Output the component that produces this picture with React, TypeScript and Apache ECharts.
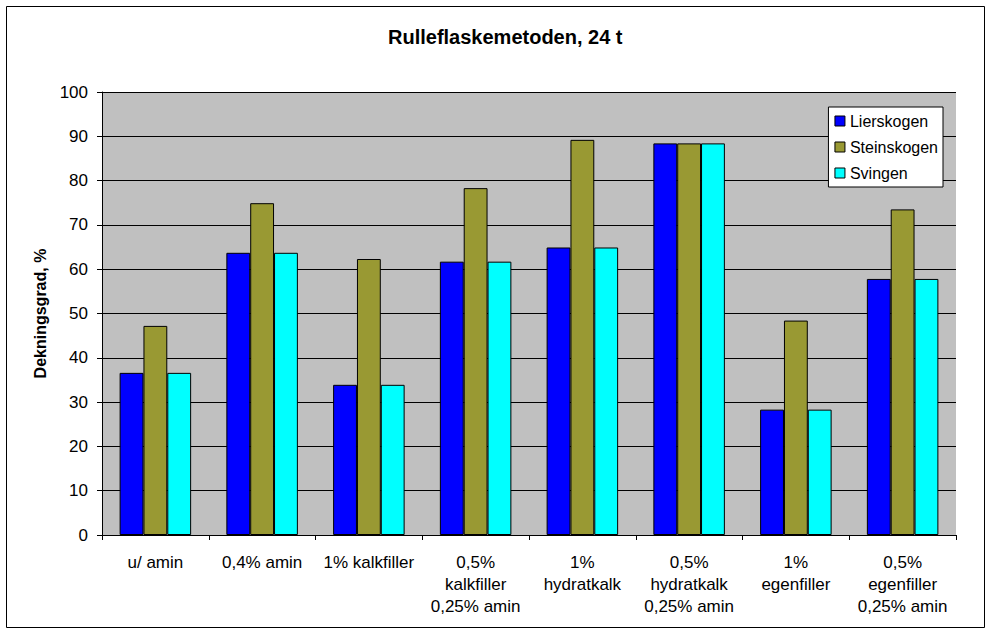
import React, { useEffect, useRef } from "react";
import * as echarts from "echarts";

const categories = [
  "u/ amin",
  "0,4% amin",
  "1% kalkfiller",
  "0,5%\nkalkfiller\n0,25% amin",
  "1%\nhydratkalk",
  "0,5%\nhydratkalk\n0,25% amin",
  "1%\negenfiller",
  "0,5%\negenfiller\n0,25% amin",
];
const lierskogen = [36.6, 63.7, 33.9, 61.7, 64.9, 88.4, 28.3, 57.8];
const steinskogen = [47.2, 74.9, 62.3, 78.3, 89.2, 88.4, 48.4, 73.5];
const svingen = [36.6, 63.7, 33.9, 61.7, 64.9, 88.4, 28.3, 57.8];
const seriesNames = ["Lierskogen", "Steinskogen", "Svingen"];
const colors = ["#0000FF", "#999933", "#00FFFF"];

export default function App() {
  const ref = useRef<HTMLDivElement>(null);
  useEffect(() => {
    const chart = echarts.init(ref.current!, null, { renderer: "svg" });
    const font = "Liberation Sans, Arial, sans-serif";
    const data = [lierskogen, steinskogen, svingen];
    chart.setOption({
      animation: false,
      backgroundColor: "#ffffff",
      textStyle: { fontFamily: font },
      title: {
        text: "Rulleflaskemetoden, 24 t",
        left: 383,
        top: 22,
        textStyle: { fontSize: 20, fontWeight: "bold", color: "#000", fontFamily: font },
      },
      graphic: [
        {
          type: "rect",
          shape: { x: 6.5, y: 6.5, width: 978, height: 621 },
          style: { fill: "none", stroke: "#000", lineWidth: 1 },
          silent: true,
          z: -1,
        },
      ],
      legend: {
        orient: "vertical",
        right: 991 - 943,
        top: 107,
        padding: [6, 5, 6, 6],
        itemGap: 10,
        itemWidth: 10,
        itemHeight: 10,
        backgroundColor: "#ffffff",
        borderColor: "#000",
        borderWidth: 1,
        borderRadius: 0,
        icon: "rect",
        itemStyle: { borderColor: "#000", borderWidth: 1 },
        textStyle: { fontSize: 16, color: "#000", fontFamily: font },
        data: seriesNames,
      },
      grid: {
        left: 102,
        right: 991 - 956,
        top: 92,
        bottom: 635 - 535,
        show: true,
        backgroundColor: "#C0C0C0",
        borderWidth: 0,
      },
      xAxis: {
        type: "category",
        data: categories,
        axisLine: { lineStyle: { color: "#000", width: 1 } },
        axisTick: { show: true, length: 5, lineStyle: { color: "#000" } },
        axisLabel: {
          interval: 0,
          fontSize: 17,
          color: "#000",
          lineHeight: 22,
          margin: 16,
          fontFamily: font,
        },
      },
      yAxis: {
        type: "value",
        min: 0,
        max: 100,
        interval: 10,
        name: "Dekningsgrad, %",
        nameLocation: "middle",
        nameGap: 54,
        nameTextStyle: { fontSize: 16, fontWeight: "bold", color: "#000", fontFamily: font },
        axisLine: { show: true, lineStyle: { color: "#000", width: 1 } },
        axisTick: { show: true, length: 5, lineStyle: { color: "#000" } },
        axisLabel: { fontSize: 17, color: "#000", margin: 14, fontFamily: font },
        splitLine: { show: true, lineStyle: { color: "#000", width: 1 } },
      },
      series: seriesNames.map((name, i) => ({
        name,
        type: "bar",
        data: data[i],
        barGap: "0%",
        barCategoryGap: "33%",
        itemStyle: { color: colors[i], borderColor: "#000", borderWidth: 1 },
      })),
    });
    return () => chart.dispose();
  }, []);
  return (
    <div
      ref={ref}
      style={{ position: "fixed", left: 0, top: 0, width: 991, height: 635 }}
    />
  );
}
